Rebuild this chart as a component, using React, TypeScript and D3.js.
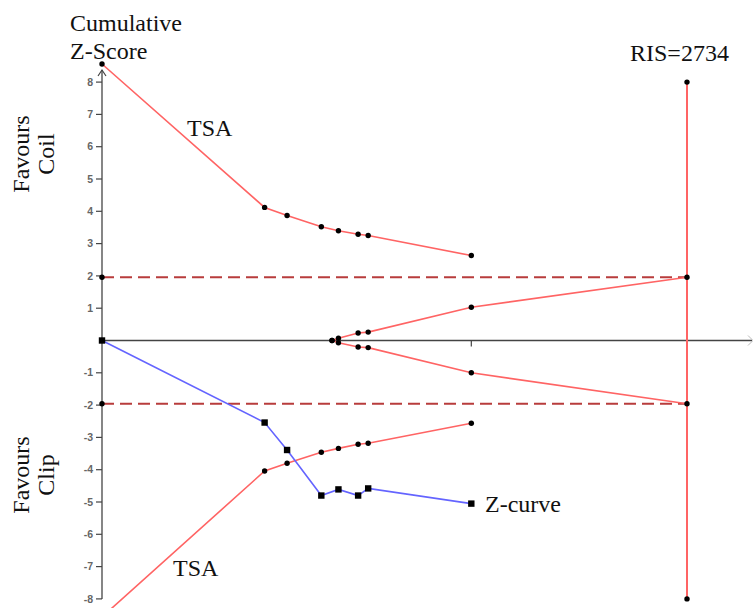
import React from "react";
import * as d3 from "d3";

// Cumulative information (patients) at each interim look
const infoSize = [0, 760, 865, 1025, 1105, 1197, 1244, 1726];
const upperBoundary = [8.56, 4.12, 3.87, 3.52, 3.4, 3.29, 3.25, 2.63];
const lowerBoundary = [-8.56, -4.04, -3.8, -3.46, -3.34, -3.21, -3.18, -2.56];
const zCurve = [0, -2.54, -3.39, -4.8, -4.61, -4.8, -4.58, -5.05];

// Futility (inner wedge) boundaries
const futilityInfo = [1075, 1105, 1197, 1244, 1726, 2734];
const futilityUpper = [0, 0.07, 0.23, 0.26, 1.03, 1.96];
const futilityLower = [0, -0.07, -0.2, -0.22, -1.0, -1.96];

const RIS = 2734;
const risBounds = [8, -8];
const conventional = [1.96, -1.96];
const yTicks = [8, 7, 6, 5, 4, 3, 2, 1, -1, -2, -3, -4, -5, -6, -7, -8];
const xTickInfo = [1726];

const W = 753;
const H = 608;

export default function App() {
  const x = d3.scaleLinear().domain([0, RIS]).range([102, 687]);
  const y = d3.scaleLinear().domain([-8, 8]).range([598.9, 82.1]);
  const x0 = x(0);
  const y0 = y(0);

  const line = d3
    .line<[number, number]>()
    .x((d) => x(d[0]))
    .y((d) => y(d[1]));

  const upper: [number, number][] = infoSize.map((n, i) => [n, upperBoundary[i]]);
  const lower: [number, number][] = infoSize.map((n, i) => [n, lowerBoundary[i]]);
  const zc: [number, number][] = infoSize.map((n, i) => [n, zCurve[i]]);
  const fu: [number, number][] = futilityInfo.map((n, i) => [n, futilityUpper[i]]);
  const fl: [number, number][] = futilityInfo.map((n, i) => [n, futilityLower[i]]);

  const red = "#ff6464";
  const blue = "#6464ff";
  const dashRed = "#b83c3c";
  const axisCol = "#444";
  const serif = "'Liberation Serif', 'Times New Roman', serif";

  const dot = (px: number, py: number, key: string) => (
    <circle key={key} cx={px} cy={py} r={2.7} fill="#000" />
  );
  const square = (px: number, py: number, key: string) => (
    <rect key={key} x={px - 3.2} y={py - 3.2} width={6.4} height={6.4} fill="#000" />
  );

  return (
    <svg
      width={W}
      height={H}
      style={{ position: "absolute", left: 0, top: 0, background: "#fff" }}
    >
      {/* x axis */}
      <line x1={x0} x2={752} y1={y0} y2={y0} stroke={axisCol} strokeWidth={1.3} />
      <path d={`M${748},${y0 - 5} L${753},${y0} L${748},${y0 + 5}`} fill="none" stroke="#bbb" strokeWidth={1} />
      {xTickInfo.map((n) => (
        <line key={n} x1={x(n)} x2={x(n)} y1={y0} y2={y0 + 6} stroke={axisCol} strokeWidth={1.2} />
      ))}

      {/* y axis */}
      <line x1={x0} x2={x0} y1={70} y2={y(-8)} stroke={axisCol} strokeWidth={1.3} />
      <path d={`M${x0 - 4},${76} L${x0},${70} L${x0 + 4},${76}`} fill="none" stroke={axisCol} strokeWidth={1.2} />
      {yTicks.map((t) => (
        <g key={t}>
          <line x1={x0 - 6} x2={x0} y1={y(t)} y2={y(t)} stroke={axisCol} strokeWidth={1.2} />
          <text
            x={x0 - 9}
            y={y(t)}
            dy="0.35em"
            textAnchor="end"
            fontFamily="'Liberation Sans', Arial, sans-serif"
            fontSize={10.5}
            fontWeight="bold"
            fill="#666"
          >
            {t}
          </text>
        </g>
      ))}

      {/* conventional boundaries */}
      {conventional.map((c) => (
        <line
          key={c}
          x1={x0}
          x2={x(RIS)}
          y1={y(c)}
          y2={y(c)}
          stroke={dashRed}
          strokeWidth={2}
          strokeDasharray="12,6"
        />
      ))}

      {/* RIS line */}
      <line x1={x(RIS)} x2={x(RIS)} y1={y(risBounds[0])} y2={y(risBounds[1])} stroke={red} strokeWidth={2} />

      {/* TSA boundaries */}
      <path d={line(upper) as string} fill="none" stroke={red} strokeWidth={1.6} />
      <path d={line(lower) as string} fill="none" stroke={red} strokeWidth={1.6} />
      <path d={line(fu) as string} fill="none" stroke={red} strokeWidth={1.6} />
      <path d={line(fl) as string} fill="none" stroke={red} strokeWidth={1.6} />

      {/* Z-curve */}
      <path d={line(zc) as string} fill="none" stroke={blue} strokeWidth={1.6} />

      {/* markers */}
      {upper.map((d, i) => dot(x(d[0]), y(d[1]), `u${i}`))}
      {lower.map((d, i) => dot(x(d[0]), y(d[1]), `l${i}`))}
      {fu.map((d, i) => dot(x(d[0]), y(d[1]), `fu${i}`))}
      {fl.map((d, i) => dot(x(d[0]), y(d[1]), `fl${i}`))}
      {conventional.map((c) => dot(x0, y(c), `c0${c}`))}
      {risBounds.map((c) => dot(x(RIS), y(c), `r${c}`))}
      {zc.map((d, i) => square(x(d[0]), y(d[1]), `z${i}`))}

      {/* labels */}
      <g fontFamily={serif} fontSize={24} fill="#111">
        <text x={70} y={31}>Cumulative</text>
        <text x={70} y={59}>Z-Score</text>
        <text x={187} y={136}>TSA</text>
        <text x={173} y={576}>TSA</text>
        <text x={630} y={61}>RIS=2734</text>
        <text x={485} y={512}>Z-curve</text>
        <text transform="translate(29,154) rotate(-90)" textAnchor="middle">Favours</text>
        <text transform="translate(54,154) rotate(-90)" textAnchor="middle">Coil</text>
        <text transform="translate(29,475) rotate(-90)" textAnchor="middle">Favours</text>
        <text transform="translate(54,475) rotate(-90)" textAnchor="middle">Clip</text>
      </g>
    </svg>
  );
}
